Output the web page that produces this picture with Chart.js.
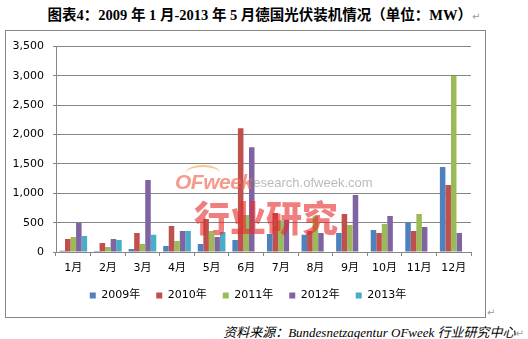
<!DOCTYPE html>
<html>
<head>
<meta charset="utf-8">
<script src="https://cdn.jsdelivr.net/npm/chart.js@4"></script>
<style>
  html, body { margin: 0; padding: 0; background: #fff; }
  body { width: 528px; height: 339px; position: relative; overflow: hidden; }
  #title {
    position: absolute; left: 0; top: 3px; width: 528px; text-align: center;
    font: bold 14.5px "Liberation Serif", "Noto Sans CJK SC", serif; color: #000;
    white-space: nowrap;
  }
  .mark { color: #9a9a9a; font: 10px "DejaVu Sans", sans-serif; font-weight: normal; font-style: normal; }
  #box {
    position: absolute; left: 5px; top: 30px; width: 479px; height: 286px;
    border: 1px solid #868686; box-sizing: content-box;
  }
  #chart { position: absolute; left: 0; top: 0; }
  #footer {
    position: absolute; right: 4px; top: 322px; white-space: nowrap;
    font: italic 13px "Liberation Serif", "Noto Sans CJK SC", serif; color: #000;
  }
  #boxmark { position: absolute; left: 487px; top: 307px; }
  .wm { position: absolute; white-space: nowrap; pointer-events: none; }
  #wm1 { left: 175px; top: 170px; font: italic bold 21px "Liberation Sans", Arial, sans-serif; color: rgba(240, 100, 80, 0.65); letter-spacing: -0.5px; }
  #wm2 { left: 249px; top: 175px; font: 13px "Liberation Sans", Arial, sans-serif; color: rgba(140, 140, 140, 0.6); }
  #wm3 { left: 194px; top: 190px; font: 900 36px "Noto Sans CJK SC", sans-serif; color: rgba(232, 40, 40, 0.6); }
  #arc { left: 186px; top: 165px; width: 34px; height: 14px; border-top: 2px solid rgba(245, 160, 60, 0.6); border-radius: 50% 50% 0 0; }
</style>
</head>
<body>
<div id="title">图表4：2009 年 1 月-2013 年 5 月德国光伏装机情况（单位：MW）<span class="mark">↵</span></div>
<div id="box"><canvas id="chart" width="479" height="286"></canvas></div>
<div id="boxmark" class="mark">↵</div>
<div class="wm" id="arc"></div>
<div class="wm" id="wm1">OFweek</div>
<div class="wm" id="wm2">research.ofweek.com</div>
<div class="wm" id="wm3">行业研究</div>
<div id="footer">资料来源：Bundesnetzagentur OFweek 行业研究中心<span class="mark">↵</span></div>
<script>
// Monthly German PV installations, MW
const months = ['1月', '2月', '3月', '4月', '5月', '6月', '7月', '8月', '9月', '10月', '11月', '12月'];
const yearLabels = ['2009年', '2010年', '2011年', '2012年', '2013年'];
const y2009 = [20, 15, 51, 102, 136, 204, 306, 295, 323, 375, 506, 1449];
const y2010 = [221, 153, 323, 443, 562, 2108, 665, 358, 648, 324, 358, 1142];
const y2011 = [255, 85, 136, 187, 357, 630, 540, 610, 460, 477, 648, 3000];
const y2012 = [500, 221, 1227, 357, 255, 1785, 550, 323, 972, 614, 426, 324];
const y2013 = [272, 204, 295, 357, 340, null, null, null, null, null, null, null];
const yTicks = [0, 500, 1000, 1500, 2000, 2500, 3000, 3500];

const colors = ['#4F81BD', '#C0504D', '#9BBB59', '#8064A2', '#4BACC6'];
const series = [y2009, y2010, y2011, y2012, y2013];

const font = { family: '"DejaVu Sans", "Noto Sans CJK SC", sans-serif', size: 11 };
const grey = '#868686';

// nudge the legend row to the right so it sits centred under the whole box
const legendShift = {
  id: 'legendShift',
  afterLayout(chart) {
    const lg = chart.legend;
    if (lg) { lg.left += 9.5; lg.right += 9.5; }
  }
};

new Chart(document.getElementById('chart'), {
  type: 'bar',
  plugins: [legendShift],
  data: {
    labels: months,
    datasets: series.map((d, i) => ({
      label: yearLabels[i],
      data: d,
      backgroundColor: colors[i],
      borderWidth: 0,
      categoryPercentage: 0.8,
      barPercentage: 1.0
    }))
  },
  options: {
    responsive: false,
    animation: false,
    devicePixelRatio: 1,
    layout: { padding: { top: 13, right: 14, bottom: 6, left: 0 } },
    plugins: {
      legend: {
        position: 'bottom',
        labels: {
          boxWidth: 6, boxHeight: 6, padding: 16,
          color: '#000', font: font
        }
      },
      tooltip: { enabled: false }
    },
    scales: {
      x: {
        grid: { display: true, drawOnChartArea: false, color: grey, tickLength: 4, offset: true },
        border: { color: grey },
        ticks: { color: '#000', font: font, padding: 6, maxRotation: 0, autoSkip: false },
        afterFit: (s) => { s.height = 22; }
      },
      y: {
        min: 0, max: 3500,
        afterBuildTicks: (s) => { s.ticks = yTicks.map(v => ({ value: v })); },
        grid: { color: grey, tickLength: 3 },
        border: { color: grey },
        ticks: {
          color: '#000', font: font, padding: 9,
          callback: (v) => v.toLocaleString('en-US')
        },
        afterFit: (s) => { s.width = 50; }
      }
    }
  }
});
</script>
</body>
</html>
